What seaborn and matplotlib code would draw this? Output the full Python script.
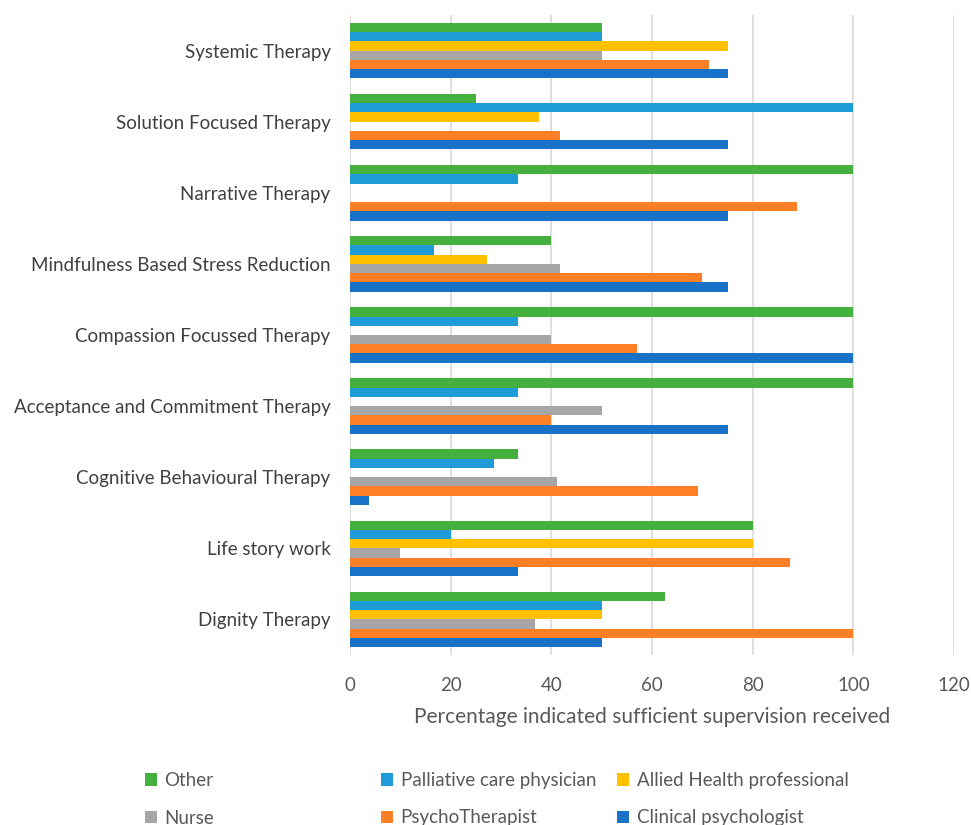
import numpy as np
import pandas as pd
import matplotlib
matplotlib.use("Agg")
import matplotlib.pyplot as plt
import seaborn as sns

# Therapies, listed top to bottom
therapies = [
    "Systemic Therapy",
    "Solution Focused Therapy",
    "Narrative Therapy",
    "Mindfulness Based Stress Reduction",
    "Compassion Focussed Therapy",
    "Acceptance and Commitment Therapy",
    "Cognitive Behavioural Therapy",
    "Life story work",
    "Dignity Therapy",
]

# Professions, drawn top to bottom inside each group
professions = [
    "Other",
    "Palliative care physician",
    "Allied Health professional",
    "Nurse",
    "PsychoTherapist",
    "Clinical psychologist",
]

# Percentage indicating sufficient supervision, per profession (same therapy order)
other = [50, 25, 100, 40, 100, 100, 33.3, 80, 62.5]
palliative = [50, 100, 33.3, 16.7, 33.3, 33.3, 28.6, 20, 50]
allied = [75, 37.5, 0, 27.3, 0, 0, 0, 80, 50]
nurse = [50, 0, 0, 41.7, 40, 50, 41.2, 10, 36.8]
psychotherapist = [71.4, 41.7, 88.9, 70, 57.1, 40, 69.2, 87.5, 100]
clinical = [75, 75, 75, 75, 100, 75, 3.8, 33.3, 50]

colors = ["#45B03D", "#1F9CD8", "#FFC000", "#A6A6A6", "#FF7F27", "#1873C8"]

series = [other, palliative, allied, nurse, psychotherapist, clinical]
df = pd.DataFrame(
    [(t, p, v) for p, vals in zip(professions, series) for t, v in zip(therapies, vals)],
    columns=["therapy", "profession", "value"],
)

sns.set_theme(style="white")
plt.rcParams["font.family"] = ["Lato", "DejaVu Sans"]

fig = plt.figure(figsize=(9.71, 8.25), dpi=100)
ax = fig.add_axes([350 / 971, 1 - 655 / 825, (954 - 350) / 971, (655 - 15) / 825])

sns.barplot(
    data=df, y="therapy", x="value", hue="profession",
    order=therapies, hue_order=professions, palette=colors, saturation=1,
    orient="h", width=0.78, errorbar=None, linewidth=0, ax=ax, legend=True,
)

ax.set_xlim(0, 120)
ax.set_xticks(np.arange(0, 121, 20))
ax.grid(axis="x", color="#D9D9D9", linewidth=1.2)
ax.grid(axis="y", visible=False)
ax.set_axisbelow(True)
for s in ax.spines.values():
    s.set_visible(False)
ax.tick_params(axis="x", labelsize=13.5, colors="#595959", length=0, pad=16)
ax.tick_params(axis="y", labelsize=13.5, colors="#404040", length=0, pad=14)
ax.set_ylabel("")
ax.set_xlabel("Percentage indicated sufficient supervision received",
              fontsize=15, color="#595959", labelpad=9)

handles, labels = ax.get_legend_handles_labels()
ax.get_legend().remove()
hmap = dict(zip(labels, handles))

columns = [
    (["Other", "Nurse"], 128),
    (["Palliative care physician", "PsychoTherapist"], 364),
    (["Allied Health professional", "Clinical psychologist"], 600),
]
for names, xpix in columns:
    fig.legend(
        [hmap[n] for n in names], names,
        loc="upper left", bbox_to_anchor=(xpix / 971, 1 - 755 / 825),
        frameon=False, fontsize=13.5, handlelength=0.65, handleheight=0.65,
        handletextpad=0.4, labelspacing=1.1, labelcolor="#595959",
    )

fig.savefig("out.png", dpi=100, facecolor="white")
